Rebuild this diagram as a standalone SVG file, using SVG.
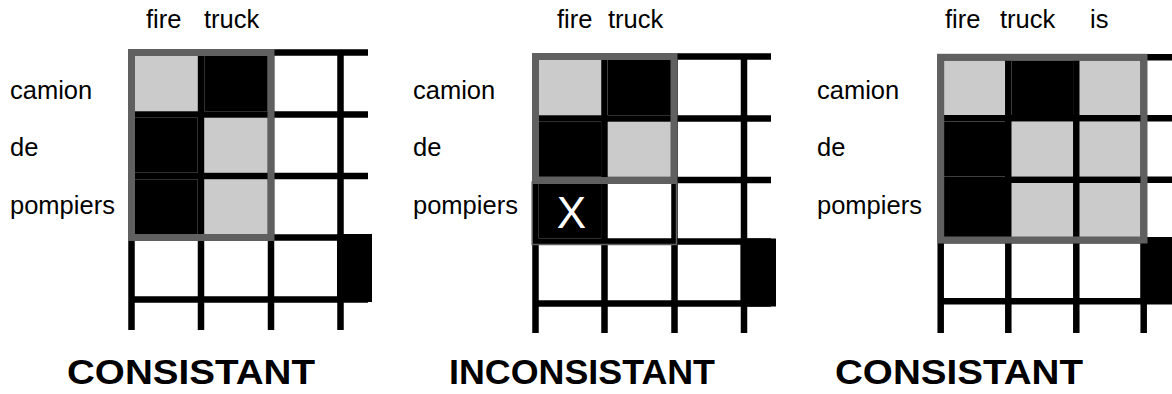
<svg xmlns="http://www.w3.org/2000/svg" width="1172" height="394" viewBox="0 0 1172 394">
<style>
.ln{stroke:#000;stroke-width:6.5;fill:none}
.lg{fill:#cbcbcb}
.bk{fill:#000}
.box{fill:none;stroke:#5f605f;stroke-width:7}
.thin{fill:none;stroke:#5f605f;stroke-width:1.5}
.lbl{font-family:"Liberation Sans",Arial,sans-serif;font-size:25.5px;fill:#000}
.ttl{font-family:"Liberation Sans",Arial,sans-serif;font-size:35px;font-weight:bold;fill:#000}
.x{font-family:"Liberation Sans",Arial,sans-serif;font-size:44px;fill:#fff}
</style>
<rect width="1172" height="394" fill="#fff"/>

<g id="panel1">
  <g id="p1-cells">
    <rect class="lg" x="134.75" y="55.75" width="63" height="55.5"/>
    <rect class="bk" x="204.25" y="55.75" width="63.5" height="55.5"/>
    <rect class="bk" x="134.75" y="117.75" width="63" height="55"/>
    <rect class="lg" x="204.25" y="117.75" width="63.5" height="55"/>
    <rect class="bk" x="134.75" y="179.25" width="63" height="55"/>
    <rect class="lg" x="204.25" y="179.25" width="63.5" height="55"/>
  </g>
  <g id="p1-grid">
    <path class="ln" d="M131.5 49.25V330M201 49.25V330M271 49.25V330M340.5 49.25V330M128.25 52.5H368M128.25 114.5H368M128.25 176H368M128.25 237.5H368M128.25 299.5H368"/>
    <rect class="bk" x="337" y="234" width="35" height="68"/>
  </g>
  <rect id="p1-box" class="box" x="131.5" y="52.5" width="139.5" height="185"/>
  <g id="p1-labels">
    <text class="lbl" x="146" y="28">fire</text>
    <text class="lbl" x="204" y="28">truck</text>
    <text class="lbl" x="10" y="99">camion</text>
    <text class="lbl" x="10" y="156">de</text>
    <text class="lbl" x="10" y="214">pompiers</text>
  </g>
  <text id="p1-title" class="ttl" x="67" y="384" textLength="248" lengthAdjust="spacingAndGlyphs">CONSISTANT</text>
</g>

<g id="panel2">
  <g id="p2-cells">
    <rect class="lg" x="538.75" y="59.75" width="63" height="55.5"/>
    <rect class="bk" x="608" y="59.75" width="63.5" height="55.5"/>
    <rect class="bk" x="538.75" y="121.75" width="63" height="55"/>
    <rect class="lg" x="608" y="121.75" width="63.5" height="55"/>
    <rect class="bk" x="538.75" y="183.25" width="63" height="55"/>
  </g>
  <g id="p2-grid">
    <path class="ln" d="M535.5 53.25V333M604.5 53.25V333M674.5 53.25V333M744 53.25V333M532.25 56.5H771M532.25 118.5H771M532.25 180H771M532.25 241.5H771M532.25 303.5H771"/>
    <rect class="bk" x="740.5" y="238.5" width="35.5" height="68"/>
  </g>
  <rect id="p2-box" class="box" x="535.5" y="56.5" width="138.5" height="124"/>
  <rect id="p2-row" class="thin" x="532.2" y="182" width="144.3" height="62.5"/>
  <text id="p2-x" class="x" x="571.5" y="227.5" text-anchor="middle">X</text>
  <g id="p2-labels">
    <text class="lbl" x="557" y="28">fire</text>
    <text class="lbl" x="608" y="28">truck</text>
    <text class="lbl" x="413" y="99">camion</text>
    <text class="lbl" x="413" y="156">de</text>
    <text class="lbl" x="413" y="214">pompiers</text>
  </g>
  <text id="p2-title" class="ttl" x="449" y="384" textLength="266" lengthAdjust="spacingAndGlyphs">INCONSISTANT</text>
</g>

<g id="panel3">
  <g id="p3-cells">
    <rect class="lg" x="944" y="60.5" width="62" height="54.5"/>
    <rect class="bk" x="1011.5" y="60.5" width="61.5" height="54.5"/>
    <rect class="lg" x="1079.5" y="60.5" width="61" height="54.5"/>
    <rect class="bk" x="944" y="121.5" width="62" height="55"/>
    <rect class="lg" x="1011.5" y="121.5" width="61.5" height="55"/>
    <rect class="lg" x="1079.5" y="121.5" width="61" height="55"/>
    <rect class="bk" x="944" y="183" width="62" height="54"/>
    <rect class="lg" x="1011.5" y="183" width="61.5" height="54"/>
    <rect class="lg" x="1079.5" y="183" width="61" height="54"/>
  </g>
  <g id="p3-grid">
    <path class="ln" d="M940.7 54V333M1008.3 54V333M1076.3 54V333M1143.7 54V333M937.5 57.3H1172M937.5 118.3H1172M937.5 179.7H1172M937.5 240.3H1172M937.5 301.3H1172"/>
    <rect class="bk" x="1140.5" y="237" width="31.5" height="67"/>
  </g>
  <rect id="p3-box" class="box" x="940.7" y="57.3" width="203.3" height="182.7"/>
  <g id="p3-labels">
    <text class="lbl" x="945" y="28">fire</text>
    <text class="lbl" x="1000" y="28">truck</text>
    <text class="lbl" x="1090" y="28">is</text>
    <text class="lbl" x="817" y="99">camion</text>
    <text class="lbl" x="817" y="156">de</text>
    <text class="lbl" x="817" y="214">pompiers</text>
  </g>
  <text id="p3-title" class="ttl" x="835" y="384" textLength="248" lengthAdjust="spacingAndGlyphs">CONSISTANT</text>
</g>
</svg>
